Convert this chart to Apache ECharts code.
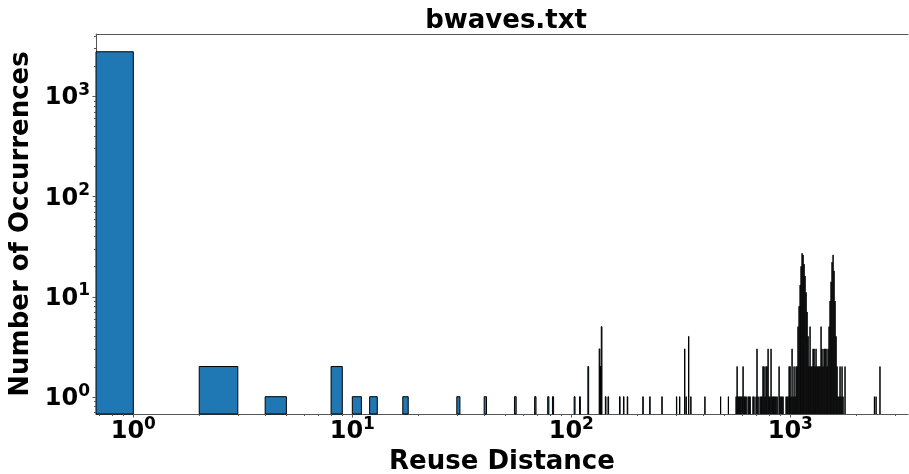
<!DOCTYPE html>
<html><head><meta charset="utf-8">
<script src="https://cdn.jsdelivr.net/npm/echarts@6/dist/echarts.min.js"></script>
<style>html,body{margin:0;padding:0;background:#fff}#c{width:909px;height:474px}</style>
</head><body><div id="c"></div>
<script>
// Histogram of reuse distances (bin left edge, bins are 1 wide) and counts
const binLeft = [0, 2, 4, 8, 10, 12, 17, 30, 40, 55, 68, 78, 82, 103, 109, 119,
  134, 135, 136, 137, 143, 147, 166, 173, 180, 212, 228, 259, 302, 312,
  329, 334, 343, 351, 407, 480, 521,
  565, 571, 577, 583, 589, 595, 602, 608, 615, 621, 628, 641, 648, 655, 675, 682, 697, 704, 712,
  727, 735, 742, 750, 758, 766, 774, 782, 791, 799, 807, 816, 825, 834, 842, 851, 860, 870,
  888, 897, 907, 916, 926, 956, 966, 976, 987, 997, 1007, 1018, 1029, 1040, 1051, 1062, 1073,
  1084, 1096, 1108, 1119, 1131, 1143, 1155, 1167, 1180, 1192, 1205, 1217, 1230, 1243, 1256,
  1270, 1283, 1297, 1310, 1324, 1338, 1352, 1366, 1381, 1395, 1410, 1425, 1440, 1456, 1471,
  1486, 1502, 1518, 1534, 1550, 1567, 1583, 1600, 1617, 1634, 1651, 1669, 1686, 1704, 1722,
  1740, 1777, 2420, 2463, 2566];
const binCounts = [2770, 2, 1, 2, 1, 1, 1, 1, 1, 1, 1, 1, 1, 1, 1, 2,
  3, 2, 2, 5, 1, 1, 1, 1, 1, 1, 1, 1, 1, 1,
  3, 1, 4, 1, 1, 1, 1,
  1, 2, 1, 1, 1, 1, 1, 2, 1, 1, 1, 1, 1, 1, 1, 1, 1, 3, 1,
  1, 1, 1, 2, 2, 1, 2, 2, 3, 1, 1, 3, 1, 1, 1, 1, 1, 1,
  2, 1, 1, 1, 1, 1, 1, 1, 2, 2, 1, 3, 1, 2, 1, 2, 2,
  5, 8, 13, 20, 27, 26, 21, 16, 11, 7, 4, 2, 5, 2, 2,
  3, 3, 2, 3, 2, 2, 2, 2, 5, 3, 2, 3, 3, 3, 2,
  3, 5, 9, 14, 22, 26, 18, 9, 4, 2, 1, 1, 2, 1, 2,
  1, 2, 1, 1, 2];
const xMajorTicks = [1, 10, 100, 1000];
const xMinorTicks = [0.7, 0.8, 0.9, 2, 3, 4, 5, 6, 7, 8, 9, 20, 30, 40, 50, 60, 70, 80, 90,
  200, 300, 400, 500, 600, 700, 800, 900, 2000, 3000];
const yMajorTicks = [1, 10, 100, 1000];
const yMinorTicks = [0.7, 0.8, 0.9, 2, 3, 4, 5, 6, 7, 8, 9, 20, 30, 40, 50, 60, 70, 80, 90,
  200, 300, 400, 500, 600, 700, 800, 900, 2000, 3000, 4000];
const xMin = 0.6755, xMax = 3446, yMin = 0.672, yMax = 4166;

const FONT = 'DejaVu Sans';
const chart = echarts.init(document.getElementById('c'), null, {renderer: 'canvas'});

function powLabel(v) {
  const e = Math.log10(v);
  if (Math.abs(e - Math.round(e)) > 1e-6) return '';
  return '{b|10}{s|' + Math.round(e) + '}';
}
const richLab = {
  b: {fontFamily: FONT, fontWeight: 'bold', fontSize: 24, color: '#000', lineHeight: 28, verticalAlign: 'bottom'},
  s: {fontFamily: FONT, fontWeight: 'bold', fontSize: 17, color: '#000', lineHeight: 12, verticalAlign: 'top'}
};

function renderBar(params, api) {
  const l = api.value(0), r = api.value(1), c = api.value(2);
  const tl = api.coord([Math.max(l, xMin), c]);
  const br = api.coord([r, yMin]);
  return {type: 'rect', shape: {x: tl[0], y: tl[1], width: br[0] - tl[0], height: br[1] - tl[1]},
    style: {fill: '#1f77b4', stroke: '#000', lineWidth: 1}};
}
function xTick(len) {
  return function (params, api) {
    const p = api.coord([api.value(0), yMin]);
    const x = Math.round(p[0]) + 0.5;
    return {type: 'line', shape: {x1: x, y1: p[1], x2: x, y2: p[1] + len}, style: {stroke: '#555', lineWidth: 1}};
  };
}
function yTick(len) {
  return function (params, api) {
    const p = api.coord([xMin, api.value(1)]);
    const y = Math.round(p[1]) + 0.5;
    return {type: 'line', shape: {x1: p[0] - len, y1: y, x2: p[0], y2: y}, style: {stroke: '#555', lineWidth: 1}};
  };
}
const spine = {show: true, lineStyle: {color: '#555', width: 1}};

const option = {
  animation: false,
  backgroundColor: '#fff',
  title: {text: 'bwaves.txt', left: 501, top: 3, textAlign: 'center',
    textStyle: {fontFamily: FONT, fontWeight: 'bold', fontSize: 26, color: '#000'}},
  grid: {left: 96, top: 34, right: 1, bottom: 60, show: false, containLabel: false, outerBoundsMode: 'none'},
  xAxis: [{type: 'log', logBase: 10, min: xMin, max: xMax, position: 'bottom',
    name: 'Reuse Distance', nameLocation: 'middle', nameGap: 31,
    nameTextStyle: {fontFamily: FONT, fontWeight: 'bold', fontSize: 26, color: '#000'},
    axisLine: spine, axisTick: {show: false}, splitLine: {show: false},
    axisLabel: {margin: 2, formatter: powLabel, rich: richLab}},
    {type: 'log', logBase: 10, min: xMin, max: xMax, position: 'top',
      axisLine: spine, axisTick: {show: false}, axisLabel: {show: false}, splitLine: {show: false}}],
  yAxis: {type: 'log', logBase: 10, min: yMin, max: yMax,
    name: 'Number of Occurrences', nameLocation: 'middle', nameGap: 58,
    nameTextStyle: {fontFamily: FONT, fontWeight: 'bold', fontSize: 26, color: '#000'},
    axisLine: spine, axisTick: {show: false}, splitLine: {show: false},
    axisLabel: {margin: 6, formatter: powLabel, rich: richLab}},
  series: [
    {type: 'custom', renderItem: renderBar, encode: {x: 1, y: 2}, silent: true, z: 2,
      data: binLeft.map((d, i) => [d, d + 1, binCounts[i]])},
    {type: 'custom', renderItem: xTick(3.5), encode: {x: 0, y: 1}, silent: true, z: 3,
      data: xMajorTicks.map(v => [v, 1])},
    {type: 'custom', renderItem: xTick(2), encode: {x: 0, y: 1}, silent: true, z: 3,
      data: xMinorTicks.map(v => [v, 1])},
    {type: 'custom', renderItem: yTick(3.5), encode: {x: 0, y: 1}, silent: true, z: 3,
      data: yMajorTicks.map(v => [1, v])},
    {type: 'custom', renderItem: yTick(2), encode: {x: 0, y: 1}, silent: true, z: 3,
      data: yMinorTicks.map(v => [1, v])}
  ]
};
chart.setOption(option);
</script></body></html>
